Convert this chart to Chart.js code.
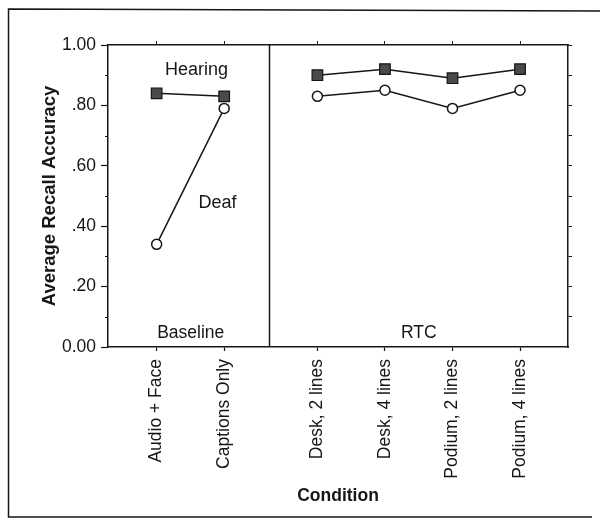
<!DOCTYPE html>
<html><head><meta charset="utf-8">
<script src="https://cdn.jsdelivr.net/npm/chart.js@4.4.0/dist/chart.umd.min.js"></script>
<style>html,body{margin:0;padding:0;background:#fff;}canvas{display:block;}</style>
</head><body>
<canvas id="c" width="600" height="526"></canvas>
<script>
// ---- data ----
const categories = ["Audio + Face", "Captions Only", "Desk, 2 lines", "Desk, 4 lines", "Podium, 2 lines", "Podium, 4 lines"];
const panels = ["Baseline", "Baseline", "RTC", "RTC", "RTC", "RTC"];
const panelNames = ["Baseline", "RTC"];
const seriesNames = ["Hearing", "Deaf"];
const hearing = [0.84, 0.83, 0.90, 0.92, 0.89, 0.92];
const deaf = [0.34, 0.79, 0.83, 0.85, 0.79, 0.85];
const yTickValues = [0, 0.2, 0.4, 0.6, 0.8, 1.0];
const yTickLabels = ["0.00", ".20", ".40", ".60", ".80", "1.00"];

// ---- layout helpers ----
const FONT = "'Liberation Sans', Arial, Helvetica, sans-serif";
const INK = "#161616";
const PANEL_GAP = 0.38;
function xPos(i) { return i + (panels[i] === "RTC" ? PANEL_GAP : 0); }
function points(values) {
  const pts = [];
  values.forEach((v, i) => {
    if (i > 0 && panels[i] !== panels[i - 1]) pts.push({ x: (xPos(i - 1) + xPos(i)) / 2, y: null });
    pts.push({ x: xPos(i), y: v });
  });
  return pts;
}
const X_MIN = xPos(0) - 0.72;
const X_MAX = xPos(categories.length - 1) + 0.71;
const firstRtc = panels.indexOf("RTC");
const DIVIDER = xPos(firstRtc - 1) + (xPos(firstRtc) - xPos(firstRtc - 1)) * 0.485;

function catTicks(scale) {
  scale.ticks = categories.map((c, i) => ({ value: xPos(i) }));
}

const decor = {
  id: 'decor',
  afterDraw(chart) {
    const { ctx, chartArea: a, scales } = chart;
    const x = scales.x, y = scales.y;
    ctx.save();
    ctx.strokeStyle = INK;
    ctx.lineWidth = 1.5;
    // outer frame (left, top, bottom)
    ctx.beginPath();
    ctx.moveTo(600, 11); ctx.lineTo(8.5, 9); ctx.lineTo(8.5, 517); ctx.lineTo(592, 517);
    ctx.stroke();
    // panel divider
    const dx = Math.round(x.getPixelForValue(DIVIDER)) + 0.5;
    ctx.beginPath(); ctx.moveTo(dx, a.top); ctx.lineTo(dx, a.bottom); ctx.stroke();
    // minor ticks on left axis
    ctx.lineWidth = 1;
    for (let k = 1; k < 10; k += 2) {
      const py = Math.round(y.getPixelForValue(k / 10)) + 0.5;
      ctx.beginPath(); ctx.moveTo(a.left - 3, py); ctx.lineTo(a.left, py); ctx.stroke();
    }
    // text annotations
    ctx.fillStyle = INK;
    ctx.font = "18px " + FONT;
    ctx.textAlign = "center"; ctx.textBaseline = "middle";
    ctx.fillText(seriesNames[0], x.getPixelForValue(xPos(0) + 0.59), y.getPixelForValue(0.917));
    ctx.fillText(seriesNames[1], x.getPixelForValue(xPos(0) + 0.90), y.getPixelForValue(0.477));
    const bounds = [a.left, dx, a.right];
    ctx.font = "17.5px " + FONT;
    panelNames.forEach((p, i) => {
      ctx.fillText(p, (bounds[i] + bounds[i + 1]) / 2 + (i === 0 ? 2 : 0), a.bottom - 14);
    });
    ctx.restore();
  }
};

new Chart(document.getElementById('c'), {
  type: 'line',
  data: {
    datasets: [
      {
        label: seriesNames[0], data: points(hearing),
        borderColor: INK, borderWidth: 1.5, spanGaps: false,
        pointStyle: 'rect', pointRadius: 7.5, pointBackgroundColor: '#4a4a4a',
        pointBorderColor: INK, pointBorderWidth: 1.2
      },
      {
        label: seriesNames[1], data: points(deaf),
        borderColor: INK, borderWidth: 1.5, spanGaps: false,
        pointStyle: 'circle', pointRadius: 5, pointBackgroundColor: '#ffffff',
        pointBorderColor: INK, pointBorderWidth: 1.5
      }
    ]
  },
  options: {
    responsive: false, animation: false,
    layout: { padding: { top: 41, left: 0, right: 0, bottom: 0 } },
    plugins: { legend: { display: false }, tooltip: { enabled: false } },
    scales: {
      x: {
        type: 'linear', position: 'bottom', min: X_MIN, max: X_MAX,
        afterBuildTicks: catTicks,
        afterFit: s => { s.height = 179; },
        ticks: {
          autoSkip: false, maxRotation: 90, minRotation: 90, padding: 8,
          color: INK, font: { family: FONT, size: 17.5 },
          callback: (v, i) => categories[i]
        },
        grid: { drawOnChartArea: false, tickLength: 4, color: INK, tickWidth: 1.2 },
        border: { display: true, color: INK, width: 1.5 },
        title: { display: true, text: 'Condition', color: INK,
          font: { family: FONT, size: 17.5, weight: 'bold' }, padding: { top: 0, bottom: 19 } }
      },
      xTop: {
        type: 'linear', position: 'top', min: X_MIN, max: X_MAX,
        afterBuildTicks: catTicks,
        afterFit: s => { s.height = 4; },
        ticks: { display: true, callback: () => '', padding: 0 },
        grid: { drawOnChartArea: false, tickLength: 4, color: INK, tickWidth: 1 },
        border: { display: true, color: INK, width: 1.5 }
      },
      y: {
        type: 'linear', position: 'left', min: 0, max: 1,
        afterBuildTicks: s => { s.ticks = yTickValues.map(v => ({ value: v })); },
        afterFit: s => { s.width = 108; },
        ticks: { color: INK, padding: 5, font: { family: FONT, size: 17.5 },
          callback: (v, i) => yTickLabels[i] },
        grid: { drawOnChartArea: false, tickLength: 7, color: INK, tickWidth: 1.2 },
        border: { display: true, color: INK, width: 1.5 },
        title: { display: true, text: 'Average Recall Accuracy', color: INK,
          font: { family: FONT, size: 18.5, weight: 'bold' }, padding: { top: 39, bottom: 0 } }
      },
      y2: {
        type: 'linear', position: 'right', min: 0, max: 1,
        afterBuildTicks: s => { s.ticks = yTickValues.concat([0.1, 0.3, 0.5, 0.7, 0.9]).filter(v => v > 0).map(v => ({ value: v })); },
        afterFit: s => { s.width = 32; },
        ticks: { display: true, callback: () => '', padding: 0 },
        grid: { drawOnChartArea: false, tickLength: 4, color: INK, tickWidth: 1 },
        border: { display: true, color: INK, width: 1.5 }
      }
    }
  },
  plugins: [decor]
});
</script>
</body></html>
